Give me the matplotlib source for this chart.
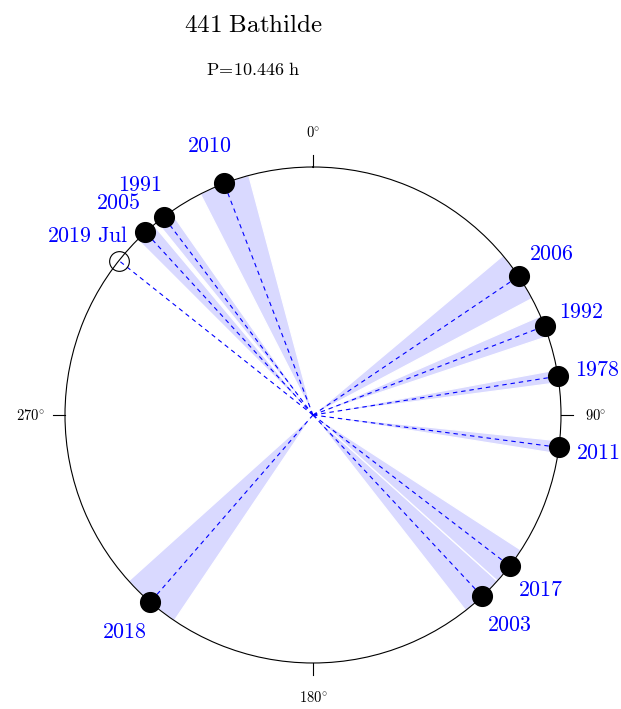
import numpy as np
import matplotlib
matplotlib.use("Agg")
import matplotlib.pyplot as plt

plt.rcParams['mathtext.fontset'] = 'cm'

# ---- data ----
years = ['1978', '1991', '1992', '2003', '2005', '2006', '2010', '2011', '2017', '2018', '2019 Jul']
angles = [81.0, 323.0, 69.0, 137.0, 317.5, 56.0, 339.0, 97.5, 127.5, 221.0, 308.5]   # degrees, clockwise from top
errors = [1.5, 2.0, 2.5, 5.0, 2.5, 6.0, 6.0, 1.5, 4.5, 7.0, 0.0]                   # half-width, degrees
open_marker = [False, False, False, False, False, False, False, False, False, False, True]
axis_ticks = [0, 90, 180, 270]
title = '441 Bathilde'
subtitle = 'P=10.446 h'

W, H = 621, 709
fig = plt.figure(figsize=(W / 100, H / 100), dpi=100)
cx, cy, R = 313, 709 - 415, 248
ax = fig.add_axes([(cx - R) / W, (cy - R) / H, 2 * R / W, 2 * R / H], projection='polar')
ax.set_theta_zero_location('N')
ax.set_theta_direction(-1)
ax.set_ylim(0, 1)
ax.grid(False)
ax.set_xticks([])
ax.set_yticks([])
ax.spines['polar'].set_linewidth(0.8)
ax.spines['polar'].set_color('black')

wedge_color = '#d9d9ff'
blue = '#0000ff'

for ang, err in zip(angles, errors):
    if err > 0:
        ax.bar(np.deg2rad(ang), 1.0, width=np.deg2rad(2 * err), bottom=0,
               color=wedge_color, edgecolor='white', linewidth=0.9, zorder=1)

for ang in angles:
    th = np.deg2rad(ang)
    ax.plot([th, th], [0, 1], color=blue, lw=0.8, dashes=(4, 3.5), zorder=2)

for ang, yr, op in zip(angles, years, open_marker):
    th = np.deg2rad(ang)
    if op:
        ax.plot([th], [1], 'o', ms=14.2, mfc='none', mec='black', mew=0.8, zorder=4, clip_on=False)
        label = r'$2019\ \mathrm{Jul}$'
    else:
        ax.plot([th], [1], 'o', ms=14.2, mfc='black', mec='black', zorder=4, clip_on=False)
        label = r'$%s$' % yr
    ax.text(th, 1.16, label, color=blue, fontsize=15.8, ha='center', va='center')

for t in axis_ticks:
    th = np.deg2rad(t)
    ax.plot([th, th], [1, 1.05], color='black', lw=0.8, clip_on=False)
    ax.text(th, 1.14, r'$%d\!^\circ$' % t, fontsize=10.5, ha='center', va='center')

fig.text(253 / W, 1 - 25 / H, r'$\mathrm{441\ Bathilde}$', fontsize=18, ha='center', va='center')
fig.text(253 / W, 1 - 70 / H, r'$\mathrm{P\!=\!10.446\ h}$', fontsize=13, ha='center', va='center')

fig.savefig('out.png', dpi=100)
